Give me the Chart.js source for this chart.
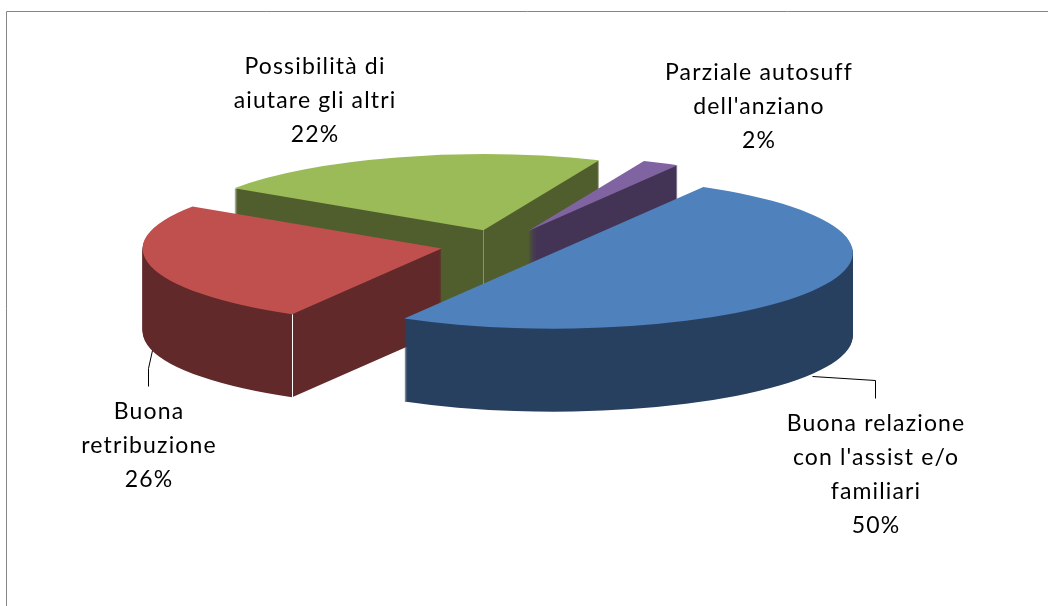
<!DOCTYPE html>
<html>
<head>
<meta charset="utf-8">
<style>
html,body{margin:0;padding:0;background:#fff;overflow:hidden}
canvas{position:absolute;left:0;top:0}
</style>
<script src="https://cdn.jsdelivr.net/npm/chart.js@4/dist/chart.umd.min.js"></script>
</head>
<body>
<canvas id="c" width="1048" height="606"></canvas>
<script>
const categories = [
  ["Buona relazione", "con l'assist e/o", "familiari"],
  ["Buona", "retribuzione"],
  ["Possibilità di", "aiutare gli altri"],
  ["Parziale autosuff", "dell'anziano"]
];
const values = [50, 26, 22, 2];
const topColors = ["#4F81BD", "#C0504D", "#9BBB59", "#8064A2"];
const sideColors = ["#27405F", "#612929", "#505E2E", "#433455"];

const view = {cx: 501, cy: 245, squash: 0.254, depth: 83, explode: 61, radius: 299, order: [2, 3, 1, 0]};
const seams = [
  {slice: 2, radial: 0, color: "#87946F"},
  {slice: 1, radial: 1, color: "#FFFFFF"}
];
const labelLayout = [
  {x: 876, y: 431},
  {x: 149, y: 419},
  {x: 315, y: 74},
  {x: 759, y: 80}
];
const labelSpacing = 1.15, labelLeading = 34;
const leaders = [
  [[812, 376], [875, 380], [875, 398]],
  [[152, 350], [148, 368], [148, 386]]
];

const pie3d = {
  id: 'pie3d',
  beforeDraw(chart) {
    const ctx = chart.ctx;
    ctx.save();
    ctx.strokeStyle = '#868686';
    ctx.lineWidth = 1;
    ctx.beginPath();
    ctx.moveTo(6.5, 606);
    ctx.lineTo(6.5, 11.5);
    ctx.lineTo(1048, 11.5);
    ctx.stroke();
    ctx.restore();
  },
  beforeDatasetDraw(chart, args) {
    const ctx = chart.ctx;
    const arcs = args.meta.data;
    const v = view;
    const place = (c, arc, dy) => {
      const mid = (arc.startAngle + arc.endAngle) / 2;
      c.translate(v.cx, v.cy + dy);
      c.scale(1, v.squash);
      c.translate(Math.cos(mid) * v.explode - arc.x, Math.sin(mid) * v.explode - arc.y);
    };
    v.order.forEach(i => {
      const arc = arcs[i];
      const base = arc.options;
      const mid = (arc.startAngle + arc.endAngle) / 2;
      const side = Object.create(base);
      side.backgroundColor = sideColors[i];
      side.borderWidth = 0;
      arc.options = side;
      const layer = document.createElement('canvas');
      layer.width = chart.width;
      layer.height = chart.height;
      const lc = layer.getContext('2d');
      for (let dy = v.depth; dy >= 1; dy--) {
        lc.save();
        place(lc, arc, dy);
        arc.draw(lc);
        lc.restore();
      }
      // even out the colour of the stacked layers, keeping their coverage
      lc.globalCompositeOperation = 'source-atop';
      lc.fillStyle = sideColors[i];
      lc.fillRect(0, 0, layer.width, layer.height);
      ctx.drawImage(layer, 0, 0);
      seams.filter(s => s.slice === i).forEach(s => {
        const sx = v.cx + Math.cos(mid) * v.explode + s.radial * Math.cos(arc.startAngle) * arc.outerRadius;
        const sy = v.cy + v.squash * (Math.sin(mid) * v.explode + s.radial * Math.sin(arc.startAngle) * arc.outerRadius);
        ctx.save();
        ctx.strokeStyle = s.color;
        ctx.lineWidth = 1;
        ctx.beginPath();
        ctx.moveTo(Math.round(sx) + 0.5, sy);
        ctx.lineTo(Math.round(sx) + 0.5, sy + v.depth);
        ctx.stroke();
        ctx.restore();
      });
      arc.options = base;
      ctx.save();
      place(ctx, arc, 0);
      arc.draw(ctx);
      ctx.restore();
    });
    return false;
  },
  afterDraw(chart) {
    const ctx = chart.ctx;
    ctx.save();
    ctx.strokeStyle = '#000';
    ctx.lineWidth = 1;
    leaders.forEach(pts => {
      ctx.beginPath();
      pts.forEach((p, j) => j ? ctx.lineTo(p[0] + 0.5, p[1] + 0.5) : ctx.moveTo(p[0] + 0.5, p[1] + 0.5));
      ctx.stroke();
    });
    ctx.fillStyle = '#000';
    ctx.font = '23px Lato';
    ctx.letterSpacing = labelSpacing + 'px';
    ctx.textAlign = 'center';
    ctx.textBaseline = 'alphabetic';
    categories.forEach((lines, i) => {
      const pos = labelLayout[i];
      lines.concat([values[i] + '%']).forEach((t, j) => ctx.fillText(t, pos.x, pos.y + j * labelLeading));
    });
    ctx.restore();
  }
};

new Chart(document.getElementById('c'), {
  type: 'pie',
  data: {
    labels: categories.map(l => l.join(' ')),
    datasets: [{data: values, backgroundColor: topColors, borderWidth: 0, hoverOffset: 0}]
  },
  options: {
    responsive: false,
    animation: false,
    rotation: 30,
    radius: view.radius,
    events: [],
    plugins: {legend: {display: false}, tooltip: {enabled: false}}
  },
  plugins: [pie3d]
});
</script>
</body>
</html>
